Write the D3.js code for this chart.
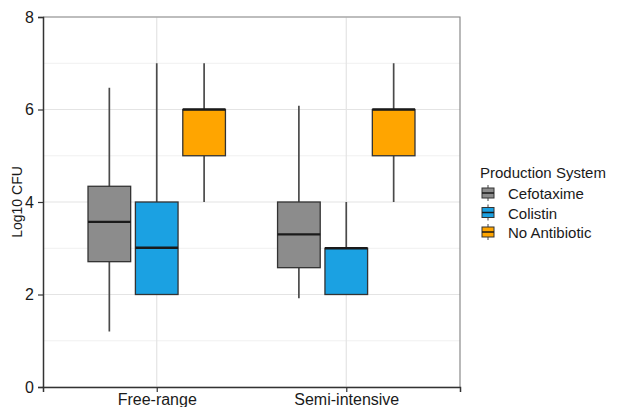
<!DOCTYPE html>
<html>
<head>
<meta charset="utf-8">
<script src="https://cdn.jsdelivr.net/npm/d3@7"></script>
<style>
  body { margin: 0; background: #fff; }
  text { font-family: "Liberation Sans", Arial, sans-serif; }
</style>
</head>
<body>
<div id="chart"></div>
<script>
// data
var systems = ["Free-range", "Semi-intensive"];
var treatments = ["Cefotaxime", "Colistin", "No Antibiotic"];
var colors = ["#8c8c8c", "#1ba1e2", "#ffa500"];
var yTicks = [0, 2, 4, 6, 8];

// [lower whisker, Q1, median, Q3, upper whisker]
var cefotaxime = [[1.2, 2.71, 3.57, 4.34, 6.47], [1.92, 2.58, 3.3, 4.0, 6.08]];
var colistin = [[2.0, 2.0, 3.01, 4.0, 7.0], [2.0, 2.0, 3.0, 3.0, 4.0]];
var noAntibiotic = [[4.0, 5.0, 6.0, 6.0, 7.0], [4.0, 5.0, 6.0, 6.0, 7.0]];

var svgWidth = 617;
var svgHeight = 407;
var margin = { top: 17, right: 157, bottom: 20, left: 43 };
var width = svgWidth - margin.left - margin.right;
var height = svgHeight - margin.top - margin.bottom;

var svg = d3.select("#chart").append("svg")
  .attr("width", svgWidth)
  .attr("height", svgHeight);

var chartGroup = svg.append("g")
  .attr("transform", `translate(${margin.left}, ${margin.top})`);

// build rows
var rows = [];
var seriesList = [cefotaxime, colistin, noAntibiotic];
systems.forEach(function(s, i) {
  treatments.forEach(function(t, j) {
    var v = seriesList[j][i];
    rows.push({ system: s, treatment: t, lo: v[0], q1: v[1], med: v[2], q3: v[3], hi: v[4] });
  });
});

var xScale = d3.scalePoint().domain(systems).range([0, width]).padding(0.6);
var step = xScale.step();
var dodge = d3.scaleBand().domain(treatments).range([-0.375 * step, 0.375 * step]);
var boxW = dodge.bandwidth() * 0.9;

var yScale = d3.scaleLinear().domain([0, 8]).range([height, 0]);
var color = d3.scaleOrdinal().domain(treatments).range(colors);

// grid
chartGroup.selectAll(".minor")
  .data([1, 3, 5, 7]).enter().append("line")
  .attr("x1", 0).attr("x2", width)
  .attr("y1", d => yScale(d)).attr("y2", d => yScale(d))
  .attr("stroke", "#f0f0f0").attr("stroke-width", 1);
chartGroup.selectAll(".major")
  .data(yTicks).enter().append("line")
  .attr("x1", 0).attr("x2", width)
  .attr("y1", d => yScale(d)).attr("y2", d => yScale(d))
  .attr("stroke", "#e4e4e4").attr("stroke-width", 1.2);
chartGroup.selectAll(".vgrid")
  .data(systems).enter().append("line")
  .attr("x1", d => xScale(d)).attr("x2", d => xScale(d))
  .attr("y1", 0).attr("y2", height)
  .attr("stroke", "#e4e4e4").attr("stroke-width", 1.2);

// panel border top/right
chartGroup.append("path")
  .attr("d", `M0,0H${width}V${height}`)
  .attr("fill", "none").attr("stroke", "#8a8a8a").attr("stroke-width", 1.2);

// boxes
var boxes = chartGroup.selectAll(".box")
  .data(rows).enter().append("g")
  .attr("transform", d => `translate(${xScale(d.system) + dodge(d.treatment) + dodge.bandwidth() / 2}, 0)`);

boxes.append("line")
  .attr("y1", d => yScale(d.hi)).attr("y2", d => yScale(d.q3))
  .attr("stroke", "#4a4a4a").attr("stroke-width", 1.7);
boxes.append("line")
  .attr("y1", d => yScale(d.q1)).attr("y2", d => yScale(d.lo))
  .attr("stroke", "#4a4a4a").attr("stroke-width", 1.7);
boxes.append("rect")
  .attr("x", -boxW / 2).attr("width", boxW)
  .attr("y", d => yScale(d.q3))
  .attr("height", d => yScale(d.q1) - yScale(d.q3))
  .attr("fill", d => color(d.treatment))
  .attr("stroke", "#333").attr("stroke-width", 1.3);
boxes.append("line")
  .attr("x1", -boxW / 2).attr("x2", boxW / 2)
  .attr("y1", d => yScale(d.med)).attr("y2", d => yScale(d.med))
  .attr("stroke", "#1a1a1a").attr("stroke-width", 2.4);

// axes
var leftAxis = d3.axisLeft(yScale).tickValues(yTicks).tickSize(5).tickPadding(4);
var bottomAxis = d3.axisBottom(xScale).tickSize(5).tickPadding(2);

var yAxis = chartGroup.append("g").call(leftAxis);
var xAxis = chartGroup.append("g")
  .attr("transform", `translate(0, ${height})`)
  .call(bottomAxis);

[yAxis, xAxis].forEach(function(a) {
  a.select(".domain").attr("stroke", "#333").attr("stroke-width", 1.5);
  a.selectAll(".tick line").attr("stroke", "#333").attr("stroke-width", 1.2);
  a.selectAll(".tick text").attr("fill", "#1a1a1a").style("font-size", "16px")
    .style("font-family", "Liberation Sans, Arial, sans-serif");
});

// y label
svg.append("text")
  .attr("transform", `translate(22, ${margin.top + height / 2}) rotate(-90)`)
  .attr("text-anchor", "middle")
  .style("font-size", "14px")
  .attr("fill", "#1a1a1a")
  .text("Log10 CFU");

// legend
var legend = svg.append("g").attr("transform", "translate(480, 0)");
legend.append("text")
  .attr("x", 0).attr("y", 178)
  .style("font-size", "15px")
  .attr("fill", "#1a1a1a")
  .text("Production System");

var items = legend.selectAll(".item")
  .data(treatments).enter().append("g")
  .attr("transform", (d, i) => `translate(0, ${193 + i * 19.5})`);

items.append("line")
  .attr("x1", 8).attr("x2", 8).attr("y1", -8).attr("y2", 8)
  .attr("stroke", "#444").attr("stroke-width", 1);
items.append("rect")
  .attr("x", 2).attr("y", -5).attr("width", 12).attr("height", 10)
  .attr("fill", d => color(d))
  .attr("stroke", "#333").attr("stroke-width", 1);
items.append("line")
  .attr("x1", 2).attr("x2", 14).attr("y1", 0).attr("y2", 0)
  .attr("stroke", "#1a1a1a").attr("stroke-width", 1.5);
items.append("text")
  .attr("x", 28).attr("y", 6)
  .style("font-size", "15px")
  .attr("fill", "#1a1a1a")
  .text(d => d);
</script>
</body>
</html>
